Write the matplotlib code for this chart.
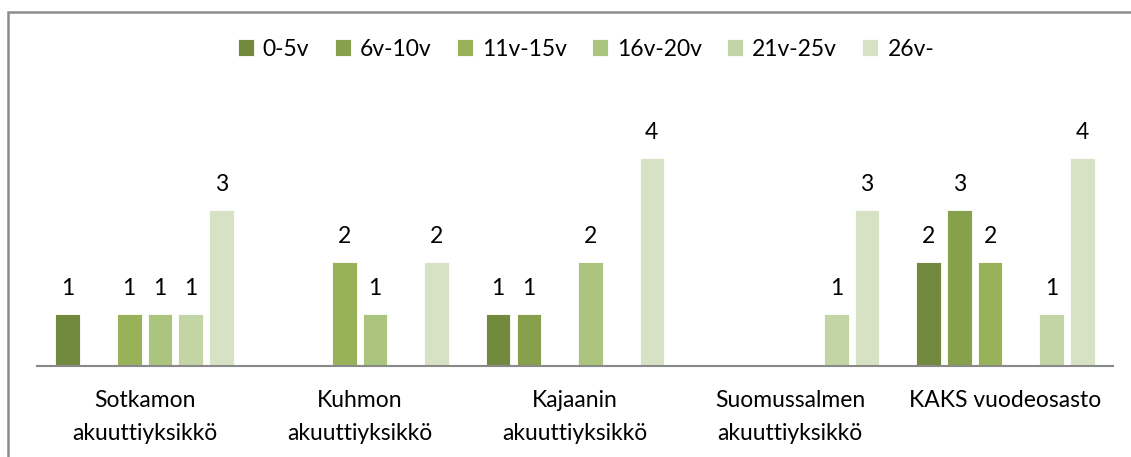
import numpy as np
import matplotlib.pyplot as plt
from matplotlib.patches import Rectangle

plt.rcParams["font.family"] = ["Lato", "DejaVu Sans"]

# Data
units = ["Sotkamon\nakuuttiyksikkö", "Kuhmon\nakuuttiyksikkö", "Kajaanin\nakuuttiyksikkö",
         "Suomussalmen\nakuuttiyksikkö", "KAKS vuodeosasto"]
age_groups = ["0-5v", "6v-10v", "11v-15v", "16v-20v", "21v-25v", "26v-"]
v_0_5 = [1, 0, 1, 0, 2]
v_6_10 = [0, 0, 1, 0, 3]
v_11_15 = [1, 2, 0, 0, 2]
v_16_20 = [1, 1, 2, 0, 0]
v_21_25 = [1, 0, 0, 1, 1]
v_26 = [3, 2, 4, 3, 4]
series = [v_0_5, v_6_10, v_11_15, v_16_20, v_21_25, v_26]
colors = ["#718A3E", "#86A04B", "#97B259", "#ABC47E", "#C3D4A5", "#D7E2C4"]

fig = plt.figure(figsize=(11.31, 4.57), dpi=100)
ax = fig.add_axes([37 / 1131, 91 / 457, 1076 / 1131, 260 / 457])

x = np.arange(len(units))
slot = 1 / 7
for i, (vals, c, name) in enumerate(zip(series, colors, age_groups)):
    pos = x - 0.5 + slot * (i + 1)
    ax.bar(pos, vals, width=slot * 0.8, color=c, label=name,
           edgecolor="white", linewidth=0.6)
    for p, v in zip(pos, vals):
        if v > 0:
            ax.annotate(str(v), (p, v), xytext=(0, 11), textcoords="offset points",
                        ha="center", va="bottom", fontsize=16.5)

ax.set_xlim(-0.5, len(units) - 0.5)
ax.set_ylim(0, 5)
ax.set_yticks([])
ax.set_xticks(x)
ax.set_xticklabels(units, fontsize=16.5, linespacing=1.7)
ax.tick_params(axis="x", length=0, pad=17)
for s in ["top", "right", "left"]:
    ax.spines[s].set_visible(False)
ax.spines["bottom"].set_color("#898989")
ax.spines["bottom"].set_linewidth(1.5)

fig.legend(loc="center", bbox_to_anchor=(586 / 1131, 1 - 49 / 457), ncol=6,
           frameon=False, fontsize=16.5, handlelength=0.7, handleheight=0.7,
           handletextpad=0.4, columnspacing=1.1)

# chart border (only top and left edges visible)
fig.add_artist(Rectangle((8 / 1131, -0.1), 1.2, 1 - 11.5 / 457 + 0.1,
                         transform=fig.transFigure, fill=False,
                         edgecolor="#8C8C8C", linewidth=1.8))

fig.savefig("out.png", dpi=100)
